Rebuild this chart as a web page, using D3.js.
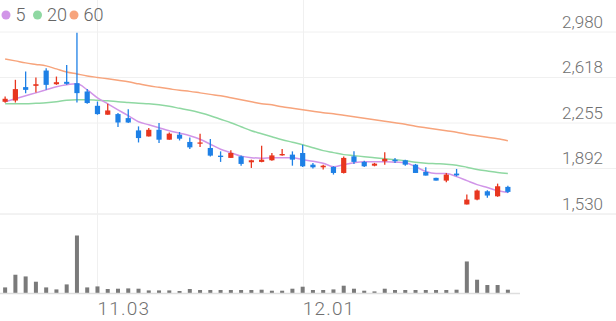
<!DOCTYPE html>
<html><head><meta charset="utf-8">
<script src="https://cdn.jsdelivr.net/npm/d3@7/dist/d3.min.js"></script>
<style>html,body{margin:0;padding:0;background:#fff;}svg{display:block;font-family:Roboto,"Noto Sans",sans-serif;}</style>
</head><body><svg id="c" width="616" height="321"></svg>
<script>
const dates = ["10.21","10.24","10.25","10.26","10.27","10.28","10.31","11.01","11.02","11.03","11.04","11.07","11.08","11.09","11.10","11.11","11.14","11.15","11.16","11.17","11.18","11.21","11.22","11.23","11.24","11.25","11.28","11.29","11.30","12.01","12.02","12.05","12.06","12.07","12.08","12.09","12.12","12.13","12.14","12.15","12.16","12.19","12.20","12.21","12.22","12.23","12.26","12.27","12.28","12.29"];
const open  = [2424,2434,2541,2551,2673,2564,2583,2572,2506,2392,2321,2326,2294,2196,2148,2201,2122,2162,2104,2090,2056,1995,1977,1989,1942,1945,1958,1997,2003,2016,1923,1902,1905,1857,1989,1945,1915,1950,1963,1958,1923,1865,1818,1796,1852,1606,1645,1711,1671,1746];
const high  = [2466,2599,2665,2617,2692,2625,2718,2975,2525,2426,2408,2334,2365,2228,2215,2255,2180,2183,2140,2170,2127,2029,2037,1997,1963,2074,2016,2048,2029,2082,1937,1923,1910,1989,2029,1955,1937,2021,1977,1963,1929,1902,1818,1857,1889,1685,1725,1719,1772,1756];
const low   = [2416,2418,2493,2498,2519,2559,2559,2418,2408,2321,2321,2223,2255,2100,2148,2096,2122,2116,2048,2064,1989,1945,1977,1915,1897,1942,1955,1995,1915,1905,1892,1884,1844,1852,1929,1905,1910,1923,1937,1915,1857,1836,1796,1783,1830,1606,1640,1659,1667,1698];
const close = [2448,2525,2519,2564,2559,2580,2567,2493,2414,2326,2355,2259,2259,2135,2201,2122,2170,2130,2061,2100,1995,1984,2016,1929,1958,1963,1997,2008,1963,1910,1902,1915,1857,1977,1945,1910,1931,1969,1950,1923,1857,1836,1796,1844,1838,1645,1717,1677,1751,1706];
const ma5  = [2424,2448,2472,2495,2519,2543,2559,2567,2519,2456,2408,2360,2313,2265,2241,2217,2193,2174,2154,2126,2086,2046,2019,1991,1979,1975,1979,1979,1979,1963,1951,1935,1907,1923,1939,1947,1947,1947,1943,1939,1907,1868,1852,1852,1828,1796,1764,1741,1717,1701];
const ma20 = [2408,2408,2408,2412,2416,2424,2436,2440,2440,2436,2432,2424,2418,2412,2408,2400,2388,2372,2356,2336,2313,2285,2257,2225,2193,2170,2146,2122,2102,2082,2058,2035,2019,2003,1995,1987,1979,1971,1963,1955,1943,1935,1931,1927,1919,1903,1884,1872,1860,1852];
const ma60 = [2765,2750,2734,2722,2710,2686,2662,2646,2630,2618,2607,2595,2583,2567,2551,2539,2527,2515,2507,2495,2483,2472,2456,2440,2424,2408,2400,2384,2372,2360,2348,2336,2329,2317,2305,2293,2281,2269,2257,2245,2229,2217,2205,2193,2182,2166,2154,2142,2130,2114];
const volume = [56,183,166,113,56,36,86,576,56,66,40,43,46,43,26,26,26,20,40,30,30,30,30,30,30,33,23,23,43,63,30,30,36,73,43,23,16,43,30,30,30,30,30,30,33,316,133,80,80,33];
const priceTicks = [2980,2617.5,2255,1892.5,1530];
const priceTickLabels = ["2,980","2,618","2,255","1,892","1,530"];
const dateTicks = ["11.03","12.01"];
const maNames = ["5","20","60"];

const C = {up:"#e8361f", down:"#1e80e6", ma5:"#d195e8", ma20:"#8fd8a2", ma60:"#f7a47c", vol:"#7a7a7a", grid:"#f0f0f0", text:"#707070"};
const svg = d3.select("#c");
const x = d3.scaleBand().domain(dates).range([0,513]);
const cx = d => x(d) + x.bandwidth()/2;
const y = d3.scaleLinear().domain([1530,2980]).range([214,32]);
const yv = d3.scaleLinear().domain([0,576]).range([293,235.5]);

// grid
svg.append("g").selectAll("line").data(priceTicks).join("line")
  .attr("x1",0).attr("x2",616).attr("y1",d=>y(d)).attr("y2",d=>y(d))
  .attr("stroke",(d,i)=> i===priceTicks.length-1 ? "#e6e6e6" : C.grid).attr("stroke-width",1);
svg.append("g").selectAll("line").data(dateTicks).join("line")
  .attr("x1",d=>Math.round(cx(d))+0.5).attr("x2",d=>Math.round(cx(d))+0.5).attr("y1",0).attr("y2",293)
  .attr("stroke",C.grid).attr("stroke-width",1);

// y labels
svg.append("g").selectAll("text").data(priceTicks).join("text")
  .attr("x",603).attr("y",d=>y(d)-4.5).attr("text-anchor","end")
  .attr("font-size",17).attr("fill",C.text).attr("font-weight",300)
  .text((d,i)=>priceTickLabels[i]);

// x labels
svg.append("g").selectAll("text").data(dateTicks).join("text")
  .attr("x",d=>cx(d)).attr("y",315).attr("text-anchor","start")
  .attr("font-size",19).attr("letter-spacing",1.2).attr("fill",C.text).attr("font-weight",300)
  .text(d=>d);

// MA lines
const mk = arr => d3.line().x((d,i)=>cx(dates[i])).y(d=>y(d)).curve(d3.curveMonotoneX)(arr);
[[ma60,C.ma60],[ma20,C.ma20],[ma5,C.ma5]].forEach(([a,c])=>{
  svg.append("path").attr("d",mk(a)).attr("fill","none").attr("stroke",c).attr("stroke-width",1.5);
});

// candles
const idx = d3.range(dates.length);
const g = svg.append("g");
g.selectAll("line").data(idx).join("line")
  .attr("x1",i=>cx(dates[i])).attr("x2",i=>cx(dates[i]))
  .attr("y1",i=>y(high[i])).attr("y2",i=>y(low[i]))
  .attr("stroke",i=>close[i]>=open[i]?C.up:C.down).attr("stroke-width",1.3);
g.selectAll("rect").data(idx).join("rect")
  .attr("x",i=>cx(dates[i])-2.6).attr("width",5.2)
  .attr("y",i=>y(Math.max(open[i],close[i])))
  .attr("height",i=>Math.max(1.2, Math.abs(y(open[i])-y(close[i]))))
  .attr("fill",i=>close[i]>=open[i]?C.up:C.down);

// volume
svg.append("g").selectAll("rect").data(idx).join("rect")
  .attr("x",i=>cx(dates[i])-2).attr("width",4)
  .attr("y",i=>yv(volume[i])).attr("height",i=>yv(0)-yv(volume[i]))
  .attr("fill",C.vol);
svg.append("line").attr("x1",0).attr("x2",520).attr("y1",293.5).attr("y2",293.5).attr("stroke","#dedede").attr("stroke-width",1.5);

// legend
const lg = svg.append("g");
const lx = [6,37.5,74];
maNames.forEach((n,i)=>{
  lg.append("circle").attr("cx",lx[i]).attr("cy",15).attr("r",4.5).attr("fill",[C.ma5,C.ma20,C.ma60][i]);
  lg.append("text").attr("x",lx[i]+9.5).attr("y",21).attr("font-size",18).attr("fill","#666").attr("font-weight",300).text(n);
});
</script></body></html>
